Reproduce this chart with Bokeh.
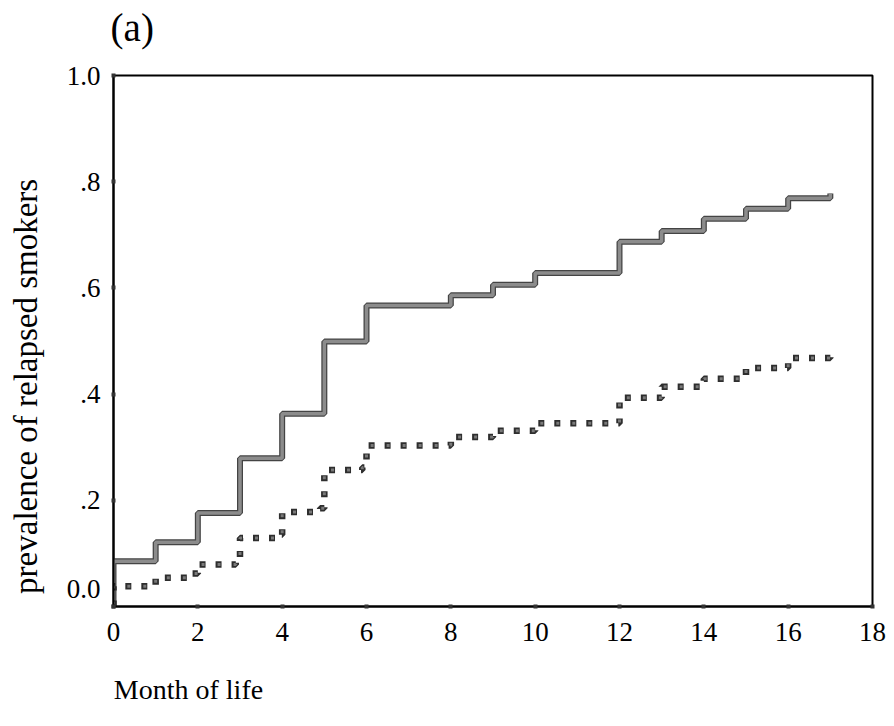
from bokeh.plotting import figure
from bokeh.models import FixedTicker, Range1d, LinearAxis, CustomJSTickFormatter
from bokeh.embed import file_html
from bokeh.resources import INLINE

# Solid curve (step after): month, cumulative prevalence
solid_month = [0, 0, 1, 2, 3, 4, 5, 6, 8, 9, 10, 12, 13, 14, 15, 16, 17]
solid_prev = [0.0, 0.085, 0.121, 0.176, 0.279, 0.363, 0.499, 0.567, 0.586,
              0.606, 0.628, 0.687, 0.707, 0.730, 0.749, 0.769, 0.778]

# Dotted curve (step after)
dotted_month = [0, 0, 1.0, 1.85, 2.0, 2.9, 3.0, 3.9, 4.0, 4.9, 5.0, 5.9, 6.0,
                8.0, 9.0, 10.0, 12.0, 13.0, 14.0, 15.0, 16.0, 17.0]
dotted_prev = [0.0, 0.038, 0.054, 0.062, 0.079, 0.087, 0.129, 0.135, 0.178,
               0.185, 0.257, 0.262, 0.303, 0.319, 0.331, 0.345, 0.393, 0.414,
               0.429, 0.449, 0.468, 0.472]

x_ticks = [0, 2, 4, 6, 8, 10, 12, 14, 16, 18]
y_ticks = [0.0, 0.2, 0.4, 0.6, 0.8, 1.0]
y_tick_labels = ["0.0", ".2", ".4", ".6", ".8", "1.0"]

title_text = "(a)"
x_label = "Month of life"
y_label = "prevalence of relapsed smokers"

FONT = "Liberation Serif"
NBSP = "\u00a0"

p = figure(width=886, height=710, output_backend="svg", toolbar_location=None,
           x_range=Range1d(0, 18), y_range=Range1d(0, 1),
           min_border_left=113, min_border_right=14,
           min_border_top=75, min_border_bottom=104)
p.background_fill_color = "white"
p.border_fill_color = "white"
p.outline_line_color = "black"
p.outline_line_width = 2
p.xgrid.visible = False
p.ygrid.visible = False

for ax in (p.xaxis[0], p.yaxis[0]):
    ax.axis_line_color = "black"
    ax.axis_line_width = 2
    ax.major_tick_line_color = "#333333"
    ax.major_tick_line_width = 4
    ax.major_tick_in = 2
    ax.major_tick_out = 2
    ax.minor_tick_line_color = None
    ax.major_label_text_font = FONT
    ax.major_label_text_font_size = "27px"
    ax.major_label_text_color = "black"
    ax.axis_label_text_font = FONT
    ax.axis_label_text_font_style = "normal"
    ax.axis_label_text_color = "black"

p.xaxis.ticker = FixedTicker(ticks=x_ticks)
p.xaxis.major_label_standoff = 14
p.yaxis.ticker = FixedTicker(ticks=y_ticks)
p.yaxis.major_label_standoff = 11
p.yaxis.formatter = CustomJSTickFormatter(
    args=dict(vals=y_ticks, labs=y_tick_labels),
    code="""
    for (let i = 0; i < vals.length; i++) {
        if (Math.abs(tick - vals[i]) < 1e-6) {
            return i == 0 ? labs[i] + "\\n\\u00a0" : labs[i];
        }
    }
    return "";
""")

# y axis label, nudged toward the lower part like the reference
p.yaxis.axis_label = y_label + NBSP * 11
p.yaxis.axis_label_text_font_size = "33px"
p.yaxis.axis_label_standoff = 20

# x axis label, left aligned under the frame
p.xaxis.axis_label_text_font_size = "28px"
p.xaxis.axis_label_standoff = 30
# frame width 759 px; pad so that the centred label starts at the frame's left
p.xaxis.axis_label = x_label + NBSP * 87

# panel tag "(a)" as the label of a bare axis above the frame
top_axis = LinearAxis(ticker=FixedTicker(ticks=[]), axis_line_color=None,
                      major_tick_line_color=None, minor_tick_line_color=None,
                      major_label_text_font_size="0px",
                      axis_label=title_text + NBSP * 74,
                      axis_label_text_font=FONT,
                      axis_label_text_font_size="39px",
                      axis_label_text_font_style="normal",
                      axis_label_text_color="black",
                      axis_label_standoff=27)
p.add_layout(top_axis, "above")

# solid curve: dark edge + gray core
p.step(solid_month, solid_prev, mode="after", line_color="#444444", line_width=6)
p.step(solid_month, solid_prev, mode="after", line_color="#8c8c8c", line_width=3.5)

# dotted curve: square dots
p.step(dotted_month, dotted_prev, mode="after", line_color="#2e2e2e",
       line_width=6.5, line_dash="6 10")
p.step(dotted_month, dotted_prev, mode="after", line_color="#7a7a7a",
       line_width=3, line_dash="3 13", line_dash_offset=14)

open("out.html", "w").write(file_html(p, INLINE))
